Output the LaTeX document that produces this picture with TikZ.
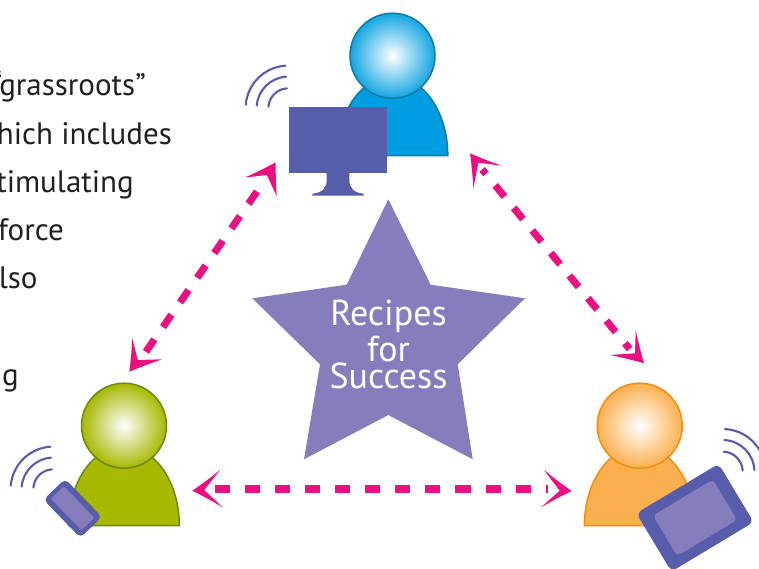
\documentclass[tikz,border=0pt]{standalone}
\usepackage{fontspec}
\setmainfont{PT Sans}
\definecolor{pinkc}{HTML}{EC0F80}
\definecolor{indigo}{HTML}{575CAB}
\definecolor{lilac}{HTML}{867DBD}
\definecolor{inkc}{HTML}{231F20}
\definecolor{blueb}{HTML}{009EE0}
\definecolor{bluel}{HTML}{0E7C9E}
\definecolor{greenb}{HTML}{A6B800}
\definecolor{greenl}{HTML}{6B8A10}
\definecolor{orangeb}{HTML}{FBB04F}
\definecolor{orangel}{HTML}{F58C12}
\pgfdeclareradialshading{bluehead}{\pgfpointorigin}{color(0bp)=(white); color(25bp)=(blueb!92!white); color(50bp)=(blueb!92!white)}
\pgfdeclareradialshading{greenhead}{\pgfpointorigin}{color(0bp)=(white); color(25bp)=(greenb); color(50bp)=(greenb)}
\pgfdeclareradialshading{orangehead}{\pgfpointorigin}{color(0bp)=(white); color(25bp)=(orangeb); color(50bp)=(orangeb)}
\tikzset{
  dashlink/.style={draw=pinkc,line width=7.2pt},
  wavearc/.style={draw=indigo,line width=2.1pt,line cap=round},
  bodyshape/.style={line width=1.5pt,line join=round},
  headshape/.style={circle,minimum size=85pt,inner sep=0pt,line width=1.5pt},
  bodytext/.style={anchor=base east,text=inkc,font=\fontsize{31}{31}\selectfont,inner sep=0pt},
  startext/.style={anchor=base,text=white,font=\fontsize{36}{36}\selectfont,inner sep=0pt}
}
\newcommand{\chev}[4]{\fill[pinkc] #1 to[bend left=2] #2 -- #3 -- #4 to[bend left=2] cycle;}
\newcommand{\person}[6]{% name, cx, base y, body fill, line, shading
  \draw[fill=#4,draw=#5,bodyshape] (#2-55.3,#3) arc[start angle=180,end angle=0,x radius=55.3pt,y radius=79.5pt] -- cycle;
  \node[headshape,draw=#5,shading=#6] (#1) at (#2,#3-100) {};
}
\newcommand{\waves}[3]{% centre, start, end
  \foreach \r in {20,31.7,42.7}
    \draw[wavearc] #1 ++(#2:\r pt) arc[start angle=#2,end angle=#3,radius=\r pt];
}
\begin{document}
\begin{tikzpicture}[x=1pt,y=-1pt]
\useasboundingbox (0,0) rectangle (759,569);
\clip (0,0) rectangle (759,569);

% text at left
\node[bodytext] (t1) at (146,96) {“grassroots”};
\node[bodytext] (t2) at (172,145) {which includes};
\node[bodytext] (t3) at (134,192.7) {stimulating};
\node[bodytext] (t4) at (64,240.7) {force};
\node[bodytext] (t5) at (37.7,288.7) {also};
\node[bodytext] (t6) at (19,385) {ng};

% people
\person{blue}{392.5}{155.7}{blueb}{bluel}{bluehead}
\person{green}{124}{525.7}{greenb}{greenl}{greenhead}
\person{orange}{639.7}{525.7}{orangeb}{orangel}{orangehead}

% monitor
\fill[indigo] (326.7,172) -- (326.7,180) .. controls (326.7,188) and (322,193) .. (312.3,193.7) -- (312.3,195.7) -- (363.7,195.7) -- (363.7,193.7) .. controls (354,193) and (349.3,188) .. (349.3,180) -- (349.3,172) -- cycle;
\node[fill=indigo,minimum width=97.7pt,minimum height=65.4pt,inner sep=0pt] (monitor) at (337.85,140) {};

% phone
\node[fill=indigo,rounded corners=5pt,minimum width=53pt,minimum height=30pt,inner sep=0pt,rotate=-46] (phone) at (72.7,508.3) {};
\node[fill=lilac,rounded corners=2pt,minimum width=44pt,minimum height=18pt,inner sep=0pt,rotate=-46] (phonescreen) at (72.7,508.3) {};

% tablet
\node[fill=indigo,rounded corners=6pt,minimum width=96pt,minimum height=68pt,inner sep=0pt,rotate=31] (tablet) at (695,517.7) {};
\node[fill=lilac,rounded corners=4pt,minimum width=70pt,minimum height=47pt,inner sep=0pt,rotate=31] (tabletscreen) at (695,517.7) {};

% waves
\waves{(288.3,108.3)}{94}{175}
\waves{(53.3,489.3)}{94}{175}
\waves{(722.7,471.7)}{87}{3}

% star
\fill[lilac] (388.3,199.3) -- (430.7,284.7) -- (525,298.3) -- (457.7,364.3) -- (472.7,459.3) -- (388.3,415) -- (304,459.3) -- (320,364.3) -- (252.3,298.3) -- (346.7,284.7) -- cycle;
\node[startext] (s1) at (388.5,325) {Recipes};
\node[startext] (s2) at (388.5,361) {for};
\node[startext] (s3) at (388.5,388.3) {Success};

% connectors
\coordinate (la) at (257,191.5);
\coordinate (lb) at (145,352.9);
\coordinate (ra) at (482.1,169.4);
\coordinate (rb) at (629.6,349);
\coordinate (ba) at (215,489);
\coordinate (bb) at (547.7,489);
\draw[dashlink,dash pattern=on 15pt off 15pt] (la) -- (lb);
\draw[dashlink,dash pattern=on 14.6pt off 14.6pt,dash phase=8.6pt] (ra) -- (rb);
\draw[dashlink,dash pattern=on 15.03pt off 15.03pt] (ba) -- (bb);

% arrow heads (tip, wing, notch, wing; counterclockwise)
\chev{(275.7,162.3)}{(245,177.5)}{(266.8,175)}{(276.7,196)}
\chev{(129.3,371.7)}{(162.3,359.3)}{(137.7,360)}{(132.3,338.3)}
\chev{(470,153.3)}{(473.3,188.3)}{(478.3,162.7)}{(501.7,165.7)}
\chev{(644,363.3)}{(635.7,330)}{(635,353.3)}{(610,355)}
\chev{(192.3,490.7)}{(222.7,507.3)}{(204.3,490)}{(220,470)}
\chev{(571.7,491)}{(544,470)}{(559.7,490.7)}{(541,507.3)}
\end{tikzpicture}
\end{document}
